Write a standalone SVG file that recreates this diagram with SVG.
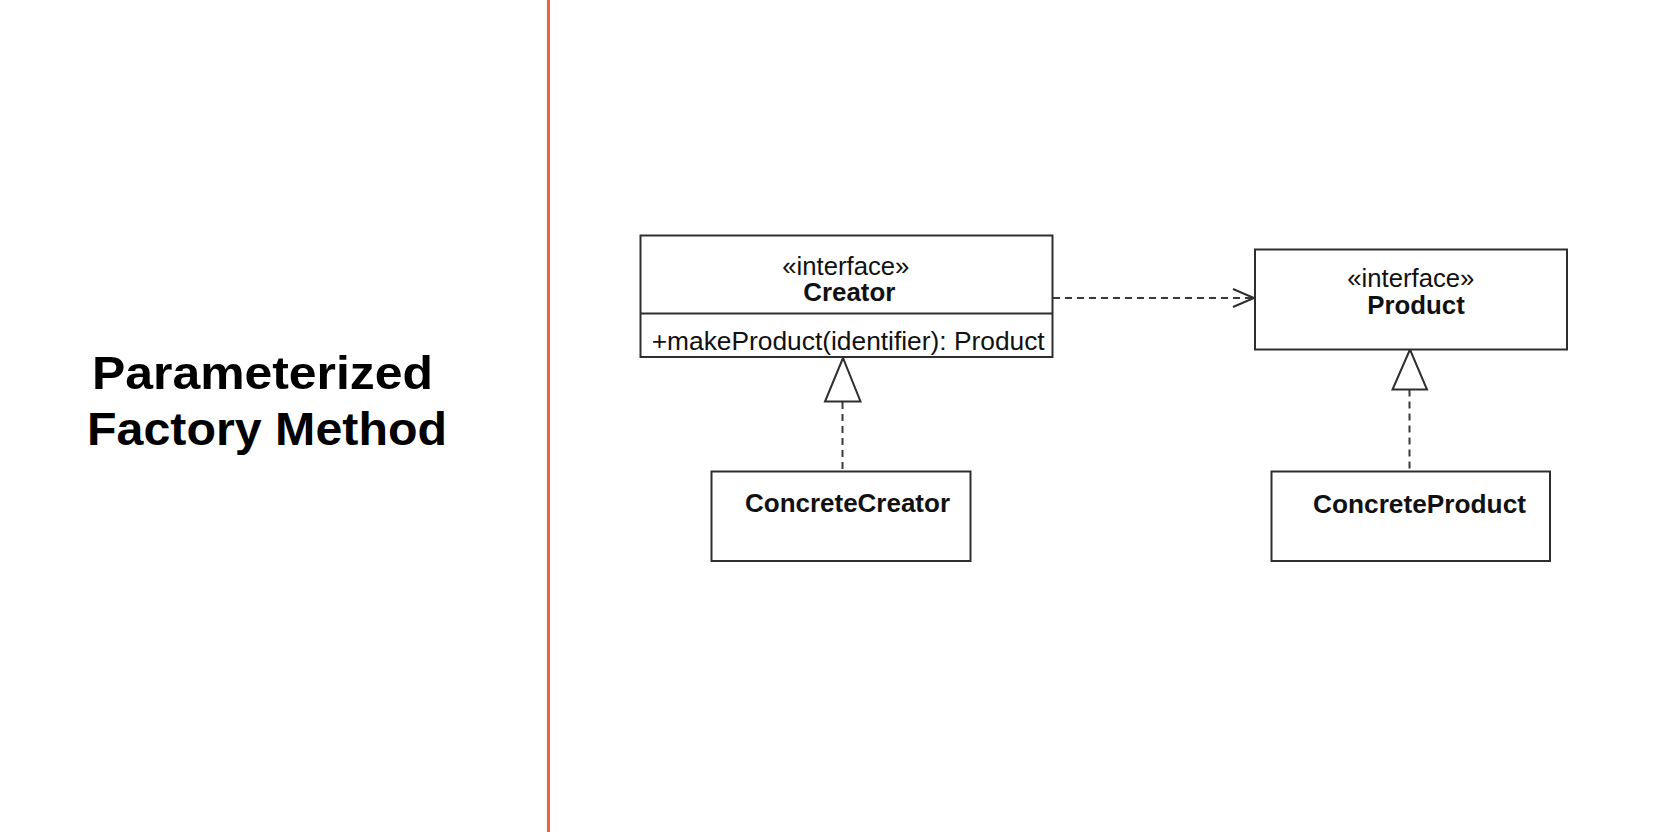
<svg xmlns="http://www.w3.org/2000/svg" width="1672" height="832" viewBox="0 0 1672 832">
<style>
.box{fill:#fff;stroke:#2e2e2e;stroke-width:2}
.dash{fill:none;stroke:#3a3a3a;stroke-width:2;stroke-dasharray:7 5}
.head{fill:none;stroke:#2e2e2e;stroke-width:2}
.tri{fill:#fff;stroke:#2e2e2e;stroke-width:2}
.t{font-family:"Liberation Sans",Arial,sans-serif;font-size:25.5px;fill:#111}
.b{font-weight:bold}
.title{font-family:"Liberation Sans",Arial,sans-serif;font-size:47px;font-weight:bold;fill:#000}
</style>
<rect width="1672" height="832" fill="#fff"/>
<g id="title">
<text class="title" x="92" y="389" textLength="341" lengthAdjust="spacingAndGlyphs">Parameterized</text>
<text class="title" x="87" y="445" textLength="360" lengthAdjust="spacingAndGlyphs">Factory Method</text>
</g>
<line id="divider" x1="548.5" y1="0" x2="548.5" y2="832" stroke="#F0623A" stroke-width="3"/>
<g id="connectors">
<line class="dash" x1="1053" y1="298" x2="1253" y2="298"/>
<polyline class="head" points="1233,289 1254,298 1233,307"/>
<line class="dash" x1="842.5" y1="402" x2="842.5" y2="471"/>
<polygon class="tri" points="843,358 825,401.5 860.5,401.5"/>
<line class="dash" x1="1409.5" y1="389.5" x2="1409.5" y2="471"/>
<polygon class="tri" points="1410,349.5 1392.5,389.5 1427,389.5"/>
</g>
<g id="creator">
<rect class="box" x="640.5" y="235.5" width="412" height="121.5"/>
<line class="box" x1="640.5" y1="313.5" x2="1052.5" y2="313.5"/>
<text class="t" x="782.3" y="274.5" textLength="127" lengthAdjust="spacingAndGlyphs">«interface»</text>
<text class="t b" x="803.3" y="300.5" textLength="92" lengthAdjust="spacingAndGlyphs">Creator</text>
<text class="t" x="651.7" y="350" textLength="393" lengthAdjust="spacingAndGlyphs">+makeProduct(identifier): Product</text>
</g>
<g id="product">
<rect class="box" x="1255" y="249.5" width="312" height="100"/>
<text class="t" x="1347.3" y="287" textLength="127" lengthAdjust="spacingAndGlyphs">«interface»</text>
<text class="t b" x="1367.3" y="314" textLength="97.5" lengthAdjust="spacingAndGlyphs">Product</text>
</g>
<g id="concreteCreator">
<rect class="box" x="711.5" y="471.5" width="259" height="89.5"/>
<text class="t b" x="745" y="512" textLength="205" lengthAdjust="spacingAndGlyphs">ConcreteCreator</text>
</g>
<g id="concreteProduct">
<rect class="box" x="1271.5" y="471.5" width="278.5" height="89.5"/>
<text class="t b" x="1313" y="513" textLength="213" lengthAdjust="spacingAndGlyphs">ConcreteProduct</text>
</g>
</svg>
